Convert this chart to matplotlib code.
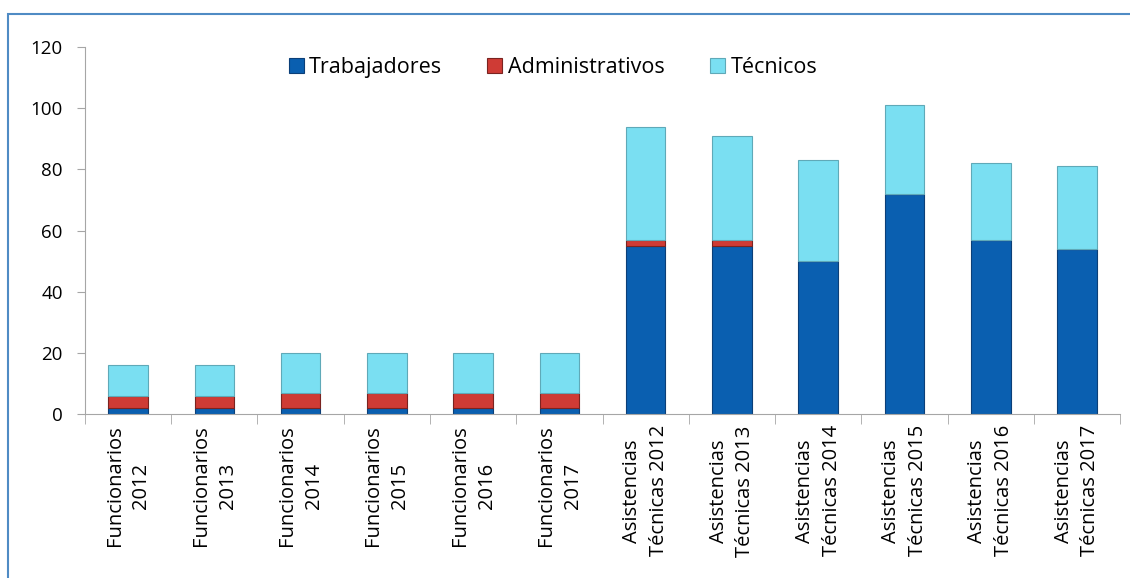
import numpy as np
import matplotlib
matplotlib.use("Agg")
import matplotlib.pyplot as plt
from matplotlib.patches import Rectangle

# ----- D A T A -----
categories = [
    "Funcionarios\n2012", "Funcionarios\n2013", "Funcionarios\n2014",
    "Funcionarios\n2015", "Funcionarios\n2016", "Funcionarios\n2017",
    "Asistencias\nTécnicas 2012", "Asistencias\nTécnicas 2013", "Asistencias\nTécnicas 2014",
    "Asistencias\nTécnicas 2015", "Asistencias\nTécnicas 2016", "Asistencias\nTécnicas 2017",
]
trabajadores = [2, 2, 2, 2, 2, 2, 55, 55, 50, 72, 57, 54]
administrativos = [4, 4, 5, 5, 5, 5, 2, 2, 0, 0, 0, 0]
tecnicos = [10, 10, 13, 13, 13, 13, 37, 34, 33, 29, 25, 27]
series_names = ["Trabajadores", "Administrativos", "Técnicos"]
yticks = [0, 20, 40, 60, 80, 100, 120]

# ----- S T Y L E -----
plt.rcParams["font.family"] = ["Open Sans", "DejaVu Sans"]
_dark, _red, _cyan = "#0a5fb0", "#cf3b35", "#7adff2"
_edges = ["#0b3f78", "#7a2320", "#5fa9b8"]
_axis = "#a6a6a6"

fig = plt.figure(figsize=(11.3, 5.78), dpi=100)
ax = fig.add_axes([0.0752, 0.2837, 0.916, 0.635])

x = np.arange(len(categories))
width = 0.46
bottom = np.zeros(len(categories))
for vals, col, ec, name in zip([trabajadores, administrativos, tecnicos],
                               [_dark, _red, _cyan], _edges, series_names):
    vals = np.array(vals, dtype=float)
    ax.bar(x, vals, width, bottom=bottom, color=col, edgecolor=ec, linewidth=0.8, label=name)
    bottom += vals

ax.set_xlim(-0.5, len(categories) - 0.5)
ax.set_ylim(0, 120)
ax.set_yticks(yticks)
ax.tick_params(axis="y", labelsize=13.5, length=6, color=_axis, pad=10)

ax.set_xticks(x)
ax.set_xticklabels(categories, rotation=90, fontsize=14.5, ha="center", va="top",
                   multialignment="center", linespacing=1.45)
ax.tick_params(axis="x", which="major", length=0, pad=8)
ax.set_xticks(np.arange(-0.5, len(categories)), minor=True)
ax.tick_params(axis="x", which="minor", length=7, color=_axis)

for s in ["top", "right"]:
    ax.spines[s].set_visible(False)
for s in ["left", "bottom"]:
    ax.spines[s].set_color(_axis)

leg = ax.legend(loc="center", bbox_to_anchor=(0.452, 0.945), ncol=3, frameon=False,
                fontsize=15.5, handlelength=0.7, handleheight=0.7, columnspacing=2.1, handletextpad=0.25)

# outer chart border (blue frame)
fig.patches.append(Rectangle((8 / 1130, -0.05), 1.2, 1 - 14 / 578 + 0.05, transform=fig.transFigure,
                             fill=False, edgecolor="#4f8bc4", linewidth=1.5))

fig.savefig("out.png", dpi=100)
